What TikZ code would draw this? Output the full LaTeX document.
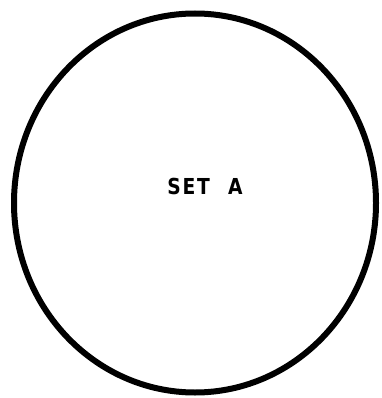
\documentclass[tikz,border=0pt]{standalone}
\usepackage{fontspec}
\newfontfamily\setfont[FakeStretch=0.85, LetterSpace=8, WordSpace=2.2]{DejaVu Sans Bold}
\usetikzlibrary{positioning, shapes.geometric}

\begin{document}
\begin{tikzpicture}[
    x=1pt, y=-1pt,
    set ring/.style={ellipse, draw=black, line width=6pt, minimum width=362pt, minimum height=379pt, inner sep=0pt},
    set label/.style={font=\setfont\fontsize{22}{22}\selectfont, inner sep=0pt}
]
    \useasboundingbox (0,0) rectangle (381,398);

    % Nodes
    \node[set ring] (SetA) at (195,203) {};
    \node[set label] (LabelA) at (205,186) {SET A};
\end{tikzpicture}
\end{document}
